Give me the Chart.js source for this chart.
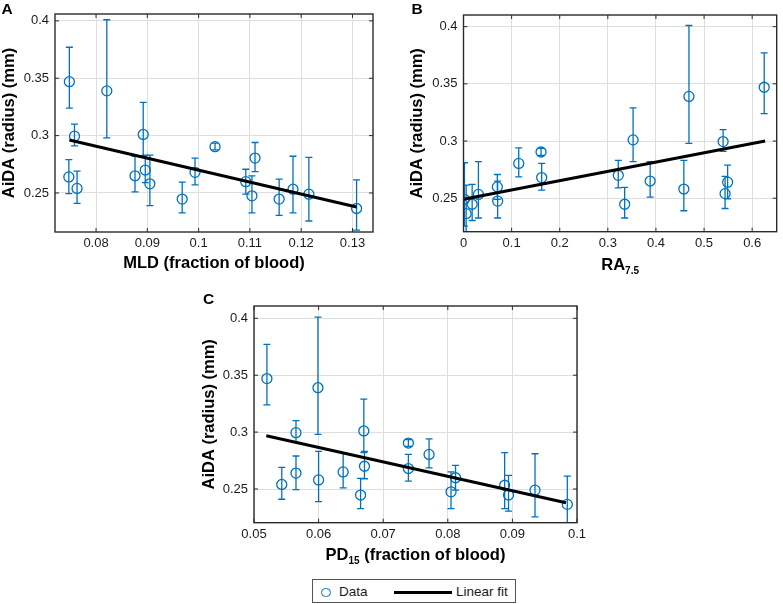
<!DOCTYPE html>
<html>
<head>
<meta charset="utf-8">
<script src="https://cdn.jsdelivr.net/npm/chart.js@4/dist/chart.umd.min.js"></script>
<style>
  html, body { margin:0; padding:0; background:#fff; }
  body { width:783px; height:604px; position:relative; overflow:hidden; font-family:"Liberation Sans", Arial, sans-serif; color:#1a1a1a; }
  canvas { position:absolute; }
  .letter { position:absolute; font-weight:bold; font-size:15.5px; line-height:15px; color:#000; }
  #legend { position:absolute; left:312px; top:579px; width:204px; height:24px; border:1px solid #555; box-sizing:border-box; background:#fff; }
  #legend .mk { position:absolute; left:8px; top:7.5px; width:9.6px; height:9.6px; border:1.3px solid #0072BD; border-radius:50%; box-sizing:border-box; }
  #legend .ln { position:absolute; left:81px; top:10.5px; width:58px; height:3px; background:#000; }
  #legend .tx { position:absolute; top:4px; font-size:13.5px; line-height:16px; color:#1a1a1a; }
</style>
</head>
<body>
<canvas id="cA" width="390" height="273" style="left:0px;top:0px"></canvas>
<canvas id="cB" width="375" height="275" style="left:408px;top:0px"></canvas>
<canvas id="cC" width="400" height="280" style="left:200px;top:290px"></canvas>
<div class="letter" style="left:1.5px;top:1px">A</div>
<div class="letter" style="left:411.5px;top:1px">B</div>
<div class="letter" style="left:203px;top:290.5px">C</div>
<div id="legend">
  <span class="mk"></span>
  <span class="tx" style="left:26px">Data</span>
  <span class="ln"></span>
  <span class="tx" style="left:143px">Linear fit</span>
</div>
<script>
// ---------- data ----------
const aida     = [0.347, 0.2995, 0.264, 0.254, 0.339, 0.301, 0.265, 0.270, 0.258, 0.2447, 0.268, 0.2904, 0.2599, 0.2475, 0.2804, 0.2447, 0.2533, 0.249, 0.2365];
const aidaLow  = [0.324, 0.291, 0.2495, 0.241, 0.298, 0.282, 0.251, 0.259, 0.239, 0.2327, 0.257, 0.2875, 0.249, 0.2327, 0.2686, 0.2305, 0.2327, 0.2256, 0.2176];
const aidaHigh = [0.377, 0.310, 0.279, 0.269, 0.401, 0.329, 0.282, 0.283, 0.283, 0.2594, 0.2804, 0.2935, 0.2707, 0.265, 0.294, 0.262, 0.282, 0.281, 0.2614];
const mld  = [0.0748, 0.0758, 0.0747, 0.0763, 0.0821, 0.0892, 0.0876, 0.0896, 0.0905, 0.0968, 0.0993, 0.1032, 0.1092, 0.1104, 0.1110, 0.1157, 0.1184, 0.1215, 0.1308];
const ra75 = [0.625, 0.5396, 0.549, 0.5437, 0.4686, 0.3525, 0.388, 0.3217, 0.458, 0.335, 0.1625, 0.1612, 0.0703, 0.071, 0.1148, 0.018, 0.031, 0.002, 0.0055];
const pd15 = [0.0520, 0.0565, 0.0565, 0.0543, 0.0599, 0.0670, 0.0638, 0.0671, 0.0600, 0.0665, 0.0739, 0.0739, 0.0812, 0.0805, 0.0771, 0.0894, 0.0888, 0.0935, 0.0985];

const fitAx = [0.0748, 0.1308], fitAy = [0.2962, 0.2378];
const fitBx = [0, 0.627],       fitBy = [0.2491, 0.3000];
const fitCx = [0.0519, 0.0983], fitCy = [0.2968, 0.2380];

const ticksAx = [0.08, 0.09, 0.1, 0.11, 0.12, 0.13];
const ticksBx = [0, 0.1, 0.2, 0.3, 0.4, 0.5, 0.6];
const ticksCx = [0.05, 0.06, 0.07, 0.08, 0.09, 0.1];
const ticksY  = [0.25, 0.3, 0.35, 0.4];

const yTitle = 'AiDA (radius) (mm)';
const xTitleA = [{t:'MLD (fraction of blood)'}];
const xTitleB = [{t:'RA'}, {t:'7.5', sub:true}];
const xTitleC = [{t:'PD'}, {t:'15', sub:true}, {t:' (fraction of blood)'}];

// ---------- styling ----------
const BLUE = '#0072BD';
const AXIS = '#2b2b2b';
const GRID = '#dedede';
const FONT = '"Liberation Sans", Arial, Helvetica, sans-serif';
Chart.defaults.font.family = FONT;
Chart.defaults.color = '#1a1a1a';

function makePanel(id, xs, fx, fy, xlim, ylim, xticks, titleParts, g) {
  const matlab = {
    id: 'matlab' + id,
    beforeDatasetsDraw(chart) {
      const {ctx, chartArea: a, scales: {x, y}} = chart;
      ctx.save();
      ctx.beginPath(); ctx.rect(a.left, a.top, a.right - a.left, a.bottom - a.top); ctx.clip();
      ctx.strokeStyle = BLUE; ctx.lineWidth = 1.3;
      for (let i = 0; i < xs.length; i++) {
        const px = x.getPixelForValue(xs[i]);
        const lo = y.getPixelForValue(aidaLow[i]);
        const hi = y.getPixelForValue(aidaHigh[i]);
        ctx.beginPath();
        ctx.moveTo(px, lo); ctx.lineTo(px, hi);
        ctx.moveTo(px - 3.5, lo); ctx.lineTo(px + 3.5, lo);
        ctx.moveTo(px - 3.5, hi); ctx.lineTo(px + 3.5, hi);
        ctx.stroke();
      }
      ctx.restore();
    },
    afterDraw(chart) {
      const {ctx, chartArea: a, scales: {x, y}} = chart;
      ctx.save();
      ctx.strokeStyle = AXIS; ctx.lineWidth = 1.4;
      ctx.strokeRect(a.left, a.top, a.right - a.left, a.bottom - a.top);
      ctx.lineWidth = 1;
      ctx.beginPath();
      x.ticks.forEach(t => {
        const p = x.getPixelForValue(t.value);
        ctx.moveTo(p, a.bottom); ctx.lineTo(p, a.bottom - 4);
        ctx.moveTo(p, a.top); ctx.lineTo(p, a.top + 4);
      });
      y.ticks.forEach(t => {
        const p = y.getPixelForValue(t.value);
        ctx.moveTo(a.left, p); ctx.lineTo(a.left + 4, p);
        ctx.moveTo(a.right, p); ctx.lineTo(a.right - 4, p);
      });
      ctx.stroke();
      // x-axis title (with optional subscript)
      const mainF = 'bold 16.5px ' + FONT, subF = 'bold 10px ' + FONT;
      let total = 0;
      const ws = titleParts.map(p => { ctx.font = p.sub ? subF : mainF; const w = ctx.measureText(p.t).width; total += w; return w; });
      let tx = (a.left + a.right) / 2 - total / 2;
      ctx.fillStyle = '#000'; ctx.textBaseline = 'middle'; ctx.textAlign = 'left';
      titleParts.forEach((p, i) => {
        ctx.font = p.sub ? subF : mainF;
        ctx.fillText(p.t, tx, p.sub ? g.ty + 6 : g.ty);
        tx += ws[i];
      });
      ctx.restore();
    }
  };

  return new Chart(document.getElementById(id), {
    type: 'scatter',
    data: {
      datasets: [
        {
          type: 'line',
          data: fx.map((v, i) => ({x: v, y: fy[i]})),
          borderColor: '#000', borderWidth: 3, pointRadius: 0, fill: false, showLine: true
        },
        {
          data: xs.map((v, i) => ({x: v, y: aida[i]})),
          pointStyle: 'circle', pointRadius: 5, pointBorderWidth: 1.3,
          pointBorderColor: BLUE, pointBackgroundColor: 'rgba(0,0,0,0)'
        }
      ]
    },
    options: {
      responsive: false, animation: false, events: [],
      layout: { padding: g.pad },
      plugins: { legend: {display: false}, tooltip: {enabled: false} },
      scales: {
        x: {
          type: 'linear', min: xlim[0], max: xlim[1],
          afterBuildTicks: ax => { ax.ticks = xticks.map(v => ({value: v})); },
          afterFit: ax => { ax.height = g.xh; },
          ticks: { callback: v => String(v), font: {size: 13}, color: '#1a1a1a', padding: 4, maxRotation: 0 },
          grid: { color: GRID, lineWidth: 1, drawTicks: false },
          border: { display: false },
          title: { display: false }
        },
        y: {
          type: 'linear', min: ylim[0], max: ylim[1],
          afterBuildTicks: ax => { ax.ticks = ticksY.map(v => ({value: v})); },
          afterFit: ax => { ax.width = g.yw; },
          ticks: { callback: v => String(v), font: {size: 13}, color: '#1a1a1a', padding: 6 },
          grid: { color: GRID, lineWidth: 1, drawTicks: false },
          border: { display: false },
          title: { display: true, text: yTitle, color: '#000', font: {size: 16.5, weight: 'bold'}, padding: {top: 0, bottom: 0} }
        }
      }
    },
    plugins: [matlab]
  });
}

makePanel('cA', mld,  fitAx, fitAy, [0.072, 0.134], [0.216, 0.406], ticksAx, xTitleA,
  {pad: {top: 14, right: 17, left: 0, bottom: 0}, yw: 55, xh: 41, ty: 263.3});
makePanel('cB', ra75, fitBx, fitBy, [0, 0.651], [0.2207, 0.4102], ticksBx, xTitleB,
  {pad: {top: 15, right: 1.5, left: 0, bottom: 0}, yw: 55.5, xh: 43.3, ty: 265});
makePanel('cC', pd15, fitCx, fitCy, [0.05, 0.1], [0.2204, 0.4108], ticksCx, xTitleC,
  {pad: {top: 16, right: 23, left: 0, bottom: 0}, yw: 54, xh: 47.3, ty: 265.7});
</script>
</body>
</html>
